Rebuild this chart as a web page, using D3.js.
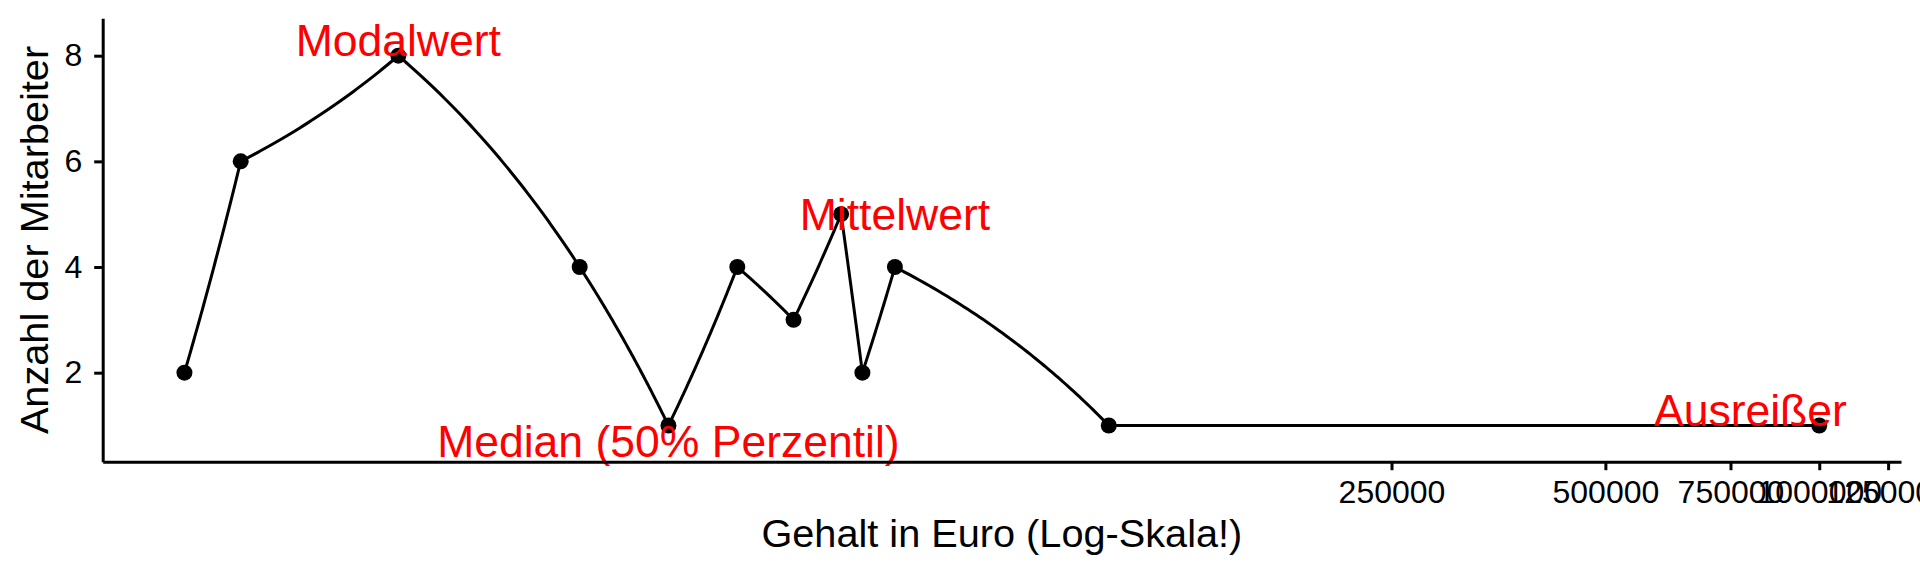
<!DOCTYPE html>
<html>
<head>
<meta charset="utf-8">
<script src="https://cdn.jsdelivr.net/npm/d3@7"></script>
<style>
  html, body { margin: 0; padding: 0; background: #fff; }
  svg { display: block; font-family: "Liberation Sans", Arial, Helvetica, sans-serif; }
</style>
</head>
<body>
<svg id="chart" width="1920" height="576"></svg>
<script>
// ---- data ----
const salaries = [5000, 6000, 10000, 18000, 24000, 30000, 36000, 42000, 45000, 50000, 100000, 1000000];
const counts   = [2, 6, 8, 4, 1, 4, 3, 5, 2, 4, 1, 1];
const xTicks   = [250000, 500000, 750000, 1000000, 1250000];
const yTicks   = [2, 4, 6, 8];
const labelTexts = ["Modalwert", "Mittelwert", "Median (50% Perzentil)", "Ausreißer"];
const labelX     = [10000, 50000, 24000, 800000];
const labelY     = [8, 4.7, 0.4, 1];
const xTitle = "Gehalt in Euro (Log-Skala!)";
const yTitle = "Anzahl der Mitarbeiter";

// ---- layout ----
const panel = { left: 102.7, right: 1901, top: 18.3, bottom: 461.7 };
const svg = d3.select("#chart");

const lo = Math.log10(d3.min(salaries)), hi = Math.log10(d3.max(salaries));
const ex = 0.05 * (hi - lo);
const x = d3.scaleLog().domain([Math.pow(10, lo - ex), Math.pow(10, hi + ex)]).range([panel.left, panel.right]);
const y = d3.scaleLinear().domain([0.315, 8.708]).range([panel.bottom, panel.top]);

const pts = salaries.map((s, i) => ({ s, c: counts[i] }));

// line drawn as straight segments in linear data space, then mapped through log x (coord_trans look)
const path = [];
for (let i = 0; i < pts.length - 1; i++) {
  const a = pts[i], b = pts[i + 1];
  const n = 60;
  for (let k = 0; k <= n; k++) {
    if (i > 0 && k === 0) continue;
    const t = k / n;
    path.push([a.s + (b.s - a.s) * t, a.c + (b.c - a.c) * t]);
  }
}
svg.append("path")
  .attr("d", d3.line().x(d => x(d[0])).y(d => y(d[1]))(path))
  .attr("fill", "none").attr("stroke", "#000").attr("stroke-width", 3)
  .attr("stroke-linejoin", "round");

svg.selectAll("circle.pt").data(pts).enter().append("circle")
  .attr("class", "pt")
  .attr("cx", d => x(d.s)).attr("cy", d => y(d.c)).attr("r", 8)
  .attr("fill", "#000");

// labels
svg.selectAll("text.lab").data(labelTexts).enter().append("text")
  .attr("class", "lab")
  .attr("x", (d, i) => x(labelX[i]))
  .attr("y", (d, i) => y(labelY[i]))
  .attr("text-anchor", "middle")
  .attr("fill", "#ff0000")
  .attr("font-size", 44.5)
  .text(d => d);

// axes
const xAxis = svg.append("g").attr("transform", `translate(0,${panel.bottom})`)
  .call(d3.axisBottom(x).tickValues(xTicks).tickFormat(d3.format("d"))
        .tickSize(8.5).tickSizeOuter(0).tickPadding(10.5));
const yAxis = svg.append("g").attr("transform", `translate(${panel.left},0)`)
  .call(d3.axisLeft(y).tickValues(yTicks).tickFormat(d3.format("d"))
        .tickSize(8.5).tickSizeOuter(0).tickPadding(12));

[xAxis, yAxis].forEach(g => {
  g.select(".domain").attr("stroke", "#000").attr("stroke-width", 3);
  g.selectAll(".tick line").attr("stroke", "#000").attr("stroke-width", 3);
  g.selectAll(".tick text").attr("fill", "#000").attr("font-size", 32)
    .attr("font-family", "'Liberation Sans', Arial, sans-serif");
});

// axis titles
svg.append("text")
  .attr("x", (panel.left + panel.right) / 2).attr("y", 547)
  .attr("text-anchor", "middle").attr("font-size", 39.7).attr("fill", "#000")
  .text(xTitle);
svg.append("text")
  .attr("transform", `translate(48,${(panel.top + panel.bottom) / 2}) rotate(-90)`)
  .attr("text-anchor", "middle").attr("font-size", 39.7).attr("fill", "#000")
  .text(yTitle);
</script>
</body>
</html>
